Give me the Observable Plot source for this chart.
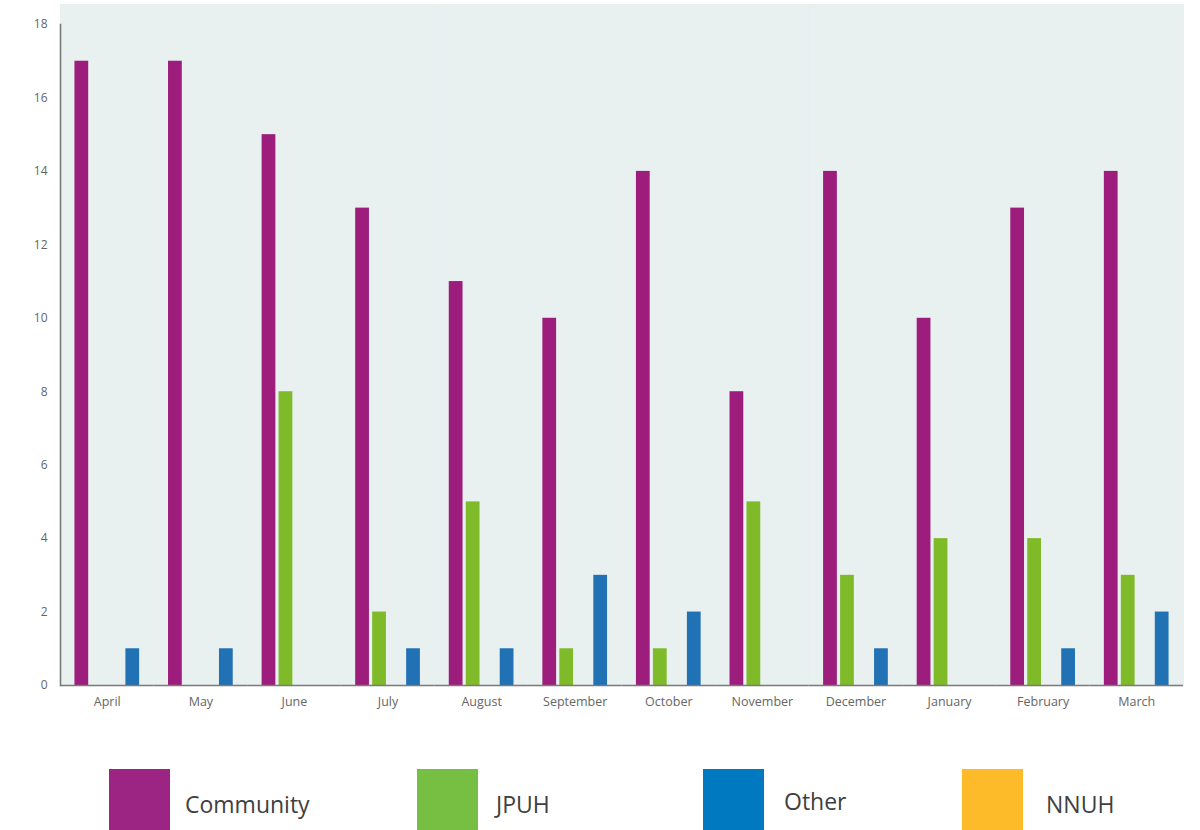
<!DOCTYPE html>
<html>
<head>
<meta charset="utf-8">
<script src="https://cdn.jsdelivr.net/npm/d3@7"></script>
<script src="https://cdn.jsdelivr.net/npm/@observablehq/plot@0.6"></script>
<style>
  html, body { margin: 0; padding: 0; background: #ffffff; }
  #chart { position: relative; width: 1200px; }
  #legend { position: relative; width: 1200px; height: 110px; font-family: "Open Sans", sans-serif; }
  .key { position: absolute; top: 49px; width: 61px; height: 61px; }
  .key-label { position: absolute; font-size: 23px; color: #404040; line-height: 1; }
</style>
</head>
<body>
<div id="chart"></div>
<div id="legend"></div>
<script>
// Monthly counts by source
const months = ["April", "May", "June", "July", "August", "September", "October", "November", "December", "January", "February", "March"];
const community = [17, 17, 15, 13, 11, 10, 14, 8, 14, 10, 13, 14];
const jpuh = [0, 0, 8, 2, 5, 1, 1, 5, 3, 4, 4, 3];
const other = [1, 1, 0, 1, 1, 3, 2, 0, 1, 0, 1, 2];
const nnuh = [0, 0, 0, 0, 0, 0, 0, 0, 0, 0, 0, 0];
const yTicks = [0, 2, 4, 6, 8, 10, 12, 14, 16, 18];

// slot order inside each month group
const slotOrder = ["Community", "JPUH", "NNUH", "Other"];
const barColors = {Community: "#9d1d7c", JPUH: "#7fba29", Other: "#2171b5", NNUH: "#fbba26"};

// legend entries (order and swatch colours)
const legendNames = ["Community", "JPUH", "Other", "NNUH"];
const legendColors = ["#9c2482", "#77bf43", "#0079c1", "#fdbb29"];

const seriesValues = {Community: community, JPUH: jpuh, Other: other, NNUH: nnuh};
const rows = [];
months.forEach((m, i) => {
  slotOrder.forEach(s => rows.push({month: m, series: s, value: seriesValues[s][i]}));
});

const bg = "#e8f1f0";

const chart = Plot.plot({
  width: 1200,
  height: 720,
  marginLeft: 60,
  marginRight: 17,
  marginTop: 24,
  marginBottom: 35,
  style: {fontFamily: "Open Sans, sans-serif", fontSize: "12px", color: "#666666", background: "transparent"},
  fx: {domain: months, padding: 0, round: false, label: null, axis: null},
  x: {domain: slotOrder, paddingInner: 0.19, paddingOuter: 0.85, round: false, axis: null},
  y: {domain: [0, 18], ticks: yTicks, tickSize: 0, tickPadding: 13, label: null},
  color: {domain: slotOrder, range: slotOrder.map(s => barColors[s])},
  marks: [
    Plot.frame({fill: bg, stroke: bg, insetTop: -20}),
    Plot.barY(rows.filter(d => d.value > 0), {fx: "month", x: "series", y: "value", fill: "series"}),
    Plot.ruleY([0], {stroke: "#7a7a7a", strokeWidth: 1.6}),
    Plot.frame({anchor: "left", fx: ["April"], stroke: "#7a7a7a", strokeWidth: 1.6}),
    Plot.axisFx({anchor: "bottom", tickSize: 0, tickPadding: 12, fontSize: 12.5, label: null})
  ]
});
document.getElementById("chart").appendChild(chart);

// legend below the plot
const legendLayout = [
  {sq: 109, tx: 185, ty: 793},
  {sq: 417, tx: 496, ty: 793},
  {sq: 703, tx: 784, ty: 790},
  {sq: 962, tx: 1046, ty: 793}
];
const legend = document.getElementById("legend");
legendNames.forEach((name, i) => {
  const sw = document.createElement("div");
  sw.className = "key";
  sw.style.left = legendLayout[i].sq + "px";
  sw.style.background = legendColors[i];
  legend.appendChild(sw);
  const lb = document.createElement("div");
  lb.className = "key-label";
  lb.style.left = legendLayout[i].tx + "px";
  lb.style.top = (legendLayout[i].ty - 720) + "px";
  lb.textContent = name;
  legend.appendChild(lb);
});
</script>
</body>
</html>
